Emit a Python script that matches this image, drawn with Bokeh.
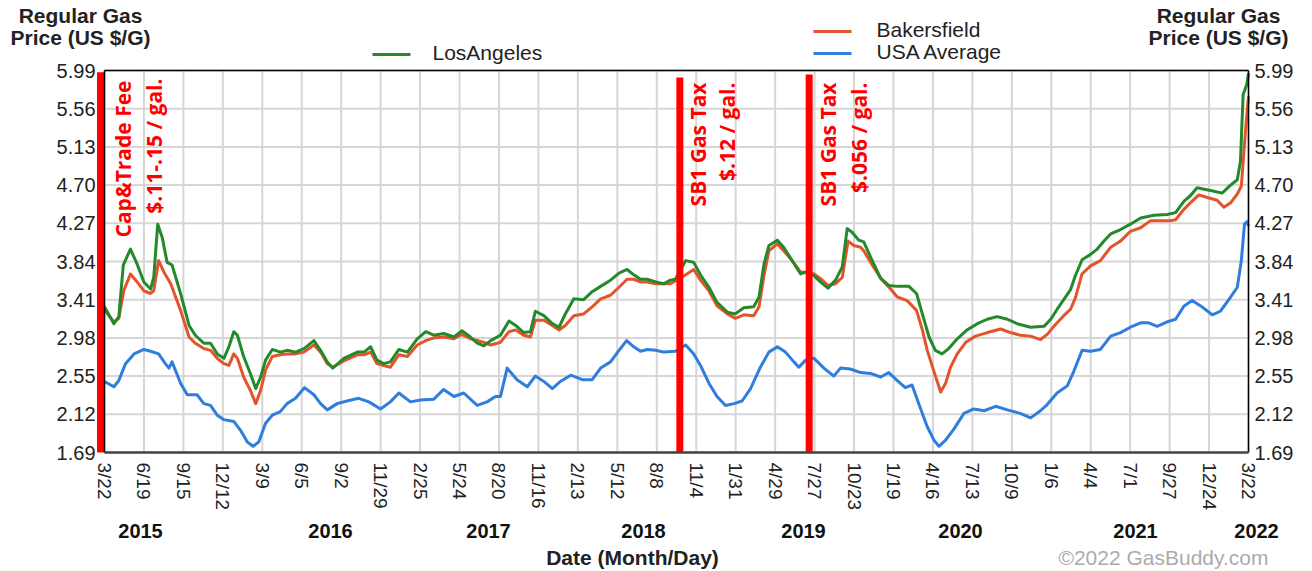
import numpy as np
from bokeh.plotting import figure
from bokeh.models import Range1d
from bokeh.core.properties import value
from bokeh.embed import file_html
from bokeh.resources import INLINE

# ---------------- data ----------------
START_DATE = "2015-03-22"      # day 0
TOTAL_DAYS = 2557              # 2015-03-22 .. 2022-03-22
N_INTERVALS = 29               # x axis ticks split the span evenly

x_tick_labels = ["3/22", "6/19", "9/15", "12/12", "3/9", "6/5", "9/2", "11/29", "2/25", "5/24",
                 "8/20", "11/16", "2/13", "5/12", "8/8", "11/4", "1/31", "4/29", "7/27", "10/23",
                 "1/19", "4/16", "7/13", "10/9", "1/6", "4/4", "7/1", "9/27", "12/24", "3/22"]
year_labels = ["2015", "2016", "2017", "2018", "2019", "2020", "2021", "2022"]
y_ticks = [1.69, 2.12, 2.55, 2.98, 3.41, 3.84, 4.27, 4.70, 5.13, 5.56, 5.99]
series_names = ["LosAngeles", "Bakersfield", "USA Average"]

# Los Angeles (days since START_DATE, $/gal)
la_day = [0, 21, 32, 42, 58, 73, 88, 103, 110, 119, 129, 140, 151, 170, 189, 203, 222, 237, 252, 267,
          278, 289, 297, 311, 326, 338, 349, 360, 375, 393, 408, 427, 446, 468, 483, 498,
          510, 535, 565, 580, 595, 609, 624, 639, 658, 677, 699, 718, 736, 758, 781, 799, 818, 833,
          848, 863, 885, 904, 919, 937, 952, 963, 982, 1001, 1016, 1030,
          1049, 1071, 1090, 1109, 1131, 1150, 1168, 1183, 1198, 1213, 1232, 1250, 1265, 1276, 1299,
          1317, 1332, 1351, 1369, 1392, 1410, 1429, 1451, 1463, 1474, 1485, 1504, 1518, 1537,
          1556, 1567, 1586, 1600, 1617, 1634, 1649, 1660, 1671, 1686, 1697, 1716, 1735, 1753, 1772,
          1798, 1815, 1828, 1843, 1857, 1872, 1887, 1906, 1928, 1951, 1973, 1995, 2018, 2040,
          2070, 2100, 2115, 2129, 2144, 2159, 2170, 2185, 2204, 2219, 2234, 2249, 2271, 2293, 2316,
          2346, 2375, 2394, 2413, 2427, 2442, 2461, 2480, 2498, 2517, 2532, 2539, 2545, 2553, 2557]
la_price = [3.33, 3.14, 3.22, 3.80, 3.98, 3.81, 3.61, 3.53, 3.66, 4.26, 4.11, 3.83, 3.80, 3.48, 3.12,
            3.01, 2.92, 2.92, 2.80, 2.75, 2.88, 3.05, 3.01, 2.77, 2.58, 2.41, 2.54, 2.73, 2.85, 2.82,
            2.84, 2.82, 2.86, 2.95, 2.84, 2.71,
            2.64, 2.75, 2.82, 2.82, 2.88, 2.73, 2.69, 2.71, 2.85, 2.82, 2.97, 3.05, 3.01, 3.03, 2.99,
            3.06, 2.99, 2.92, 2.89, 2.95, 3.01, 3.17, 3.12, 3.04, 3.05, 3.28, 3.23, 3.14, 3.10, 3.25,
            3.42, 3.41, 3.50, 3.56, 3.63, 3.71, 3.75, 3.69, 3.64, 3.64, 3.61, 3.59, 3.63, 3.64, 3.85,
            3.83, 3.69, 3.55, 3.38, 3.27, 3.25, 3.32, 3.33, 3.44, 3.81, 4.02, 4.08, 4.00, 3.85,
            3.70, 3.72, 3.68, 3.61, 3.54, 3.63, 3.78, 4.21, 4.17, 4.08, 4.06, 3.85, 3.65, 3.57, 3.56,
            3.56, 3.48, 3.25, 2.99, 2.84, 2.80, 2.86, 2.97, 3.07, 3.14, 3.19, 3.22, 3.19, 3.14,
            3.10, 3.11, 3.19, 3.30, 3.41, 3.52, 3.68, 3.86, 3.92, 3.98, 4.07, 4.15, 4.20, 4.26, 4.33,
            4.36, 4.37, 4.39, 4.52, 4.58, 4.67, 4.65, 4.63, 4.61, 4.70, 4.76, 4.97, 5.72, 5.83, 5.96]

# Bakersfield
bk_day = [0, 21, 32, 43, 58, 73, 88, 103, 110, 121, 133, 148, 170, 189, 203, 222, 237, 252, 267, 278,
          289, 297, 311, 326, 338, 349, 360, 375, 393, 408, 427, 446, 468, 483, 498,
          510, 535, 565, 580, 595, 609, 624, 639, 658, 677, 699, 718, 736, 758, 781, 799, 818, 833,
          848, 863, 885, 904, 919, 937, 952, 963, 982, 1001, 1016, 1030,
          1049, 1071, 1090, 1109, 1131, 1150, 1168, 1183, 1198, 1213, 1232, 1250, 1265, 1276, 1299,
          1317, 1332, 1351, 1369, 1392, 1410, 1429, 1451, 1463, 1474, 1485, 1504, 1518, 1537,
          1556, 1567, 1586, 1600, 1617, 1634, 1649, 1662, 1675, 1690, 1697, 1716, 1735, 1757, 1772,
          1794, 1815, 1828, 1839, 1854, 1869, 1880, 1891, 1906, 1925, 1947, 1973, 2003, 2025, 2047,
          2070, 2092, 2107, 2122, 2144, 2159, 2170, 2185, 2204, 2226, 2249, 2271, 2293, 2316, 2338,
          2360, 2383, 2394, 2413, 2427, 2446, 2465, 2487, 2502, 2517, 2532, 2541, 2548, 2554, 2557]
bk_price = [3.29, 3.16, 3.20, 3.51, 3.70, 3.61, 3.51, 3.48, 3.51, 3.85, 3.72, 3.59, 3.29, 2.99, 2.92,
            2.86, 2.84, 2.75, 2.69, 2.67, 2.80, 2.75, 2.54, 2.39, 2.24, 2.39, 2.62, 2.77, 2.79, 2.80,
            2.80, 2.82, 2.90, 2.82, 2.69,
            2.65, 2.72, 2.79, 2.79, 2.82, 2.69, 2.67, 2.65, 2.79, 2.77, 2.90, 2.95, 2.98, 2.99, 2.97,
            3.02, 2.97, 2.95, 2.93, 2.90, 2.93, 3.05, 3.07, 3.01, 2.99, 3.18, 3.18, 3.12, 3.07, 3.12,
            3.23, 3.25, 3.33, 3.42, 3.46, 3.55, 3.64, 3.64, 3.61, 3.61, 3.59, 3.59, 3.59, 3.62, 3.69,
            3.75, 3.63, 3.51, 3.34, 3.25, 3.20, 3.24, 3.23, 3.33, 3.68, 3.96, 4.04, 3.96, 3.85,
            3.72, 3.72, 3.70, 3.65, 3.57, 3.59, 3.66, 4.07, 4.02, 4.00, 3.96, 3.80, 3.65, 3.53, 3.44,
            3.40, 3.29, 3.07, 2.84, 2.60, 2.37, 2.47, 2.65, 2.80, 2.93, 3.00, 3.04, 3.08, 3.04, 3.01,
            3.00, 2.96, 3.02, 3.11, 3.23, 3.30, 3.43, 3.70, 3.79, 3.85, 4.00, 4.07, 4.18, 4.22, 4.30,
            4.30, 4.30, 4.31, 4.43, 4.50, 4.59, 4.56, 4.53, 4.45, 4.50, 4.60, 4.69, 5.16, 5.53, 5.70]

# USA average
us_day = [0, 21, 32, 47, 66, 88, 103, 121, 136, 144, 151, 170, 185, 207, 222, 237, 252, 267, 289, 304,
          319, 332, 345, 360, 375, 393, 408, 427, 447, 468, 483, 498,
          520, 542, 568, 591, 617, 639, 658, 684, 706, 736, 758, 781, 803, 833, 855, 874, 885, 900,
          922, 945, 963, 982, 1001, 1019, 1042,
          1068, 1090, 1109, 1131, 1150, 1167, 1183, 1198, 1213, 1232, 1250, 1276, 1299, 1317, 1332,
          1351, 1369, 1388, 1407, 1425, 1444, 1466, 1485, 1504, 1522, 1541,
          1552, 1567, 1586, 1608, 1630, 1645, 1667, 1690, 1712, 1735, 1753, 1772, 1790, 1805, 1820,
          1839, 1854, 1865, 1880, 1898, 1921, 1943, 1966, 1992, 2018, 2047,
          2070, 2092, 2107, 2129, 2152, 2167, 2185, 2204, 2226, 2249, 2271, 2293, 2316, 2334, 2353,
          2375, 2394, 2413, 2431, 2450, 2476, 2494, 2513, 2532, 2541, 2548, 2554, 2557]
us_price = [2.49, 2.43, 2.50, 2.69, 2.80, 2.85, 2.83, 2.80, 2.69, 2.64, 2.71, 2.47, 2.34, 2.34, 2.24,
            2.22, 2.11, 2.06, 2.04, 1.94, 1.81, 1.76, 1.81, 2.02, 2.11, 2.15, 2.24, 2.30, 2.42, 2.34,
            2.24, 2.17,
            2.24, 2.27, 2.30, 2.26, 2.18, 2.26, 2.36, 2.26, 2.28, 2.29, 2.40, 2.32, 2.36, 2.22, 2.26,
            2.32, 2.32, 2.64, 2.51, 2.43, 2.55, 2.49, 2.41, 2.49, 2.56,
            2.51, 2.51, 2.64, 2.71, 2.84, 2.95, 2.88, 2.83, 2.85, 2.84, 2.82, 2.83, 2.90, 2.80, 2.67,
            2.47, 2.32, 2.22, 2.24, 2.27, 2.41, 2.65, 2.82, 2.88, 2.82, 2.71,
            2.65, 2.73, 2.75, 2.64, 2.55, 2.64, 2.63, 2.59, 2.58, 2.54, 2.59, 2.50, 2.42, 2.45, 2.24,
            1.98, 1.83, 1.76, 1.83, 1.95, 2.13, 2.18, 2.16, 2.21, 2.17, 2.13,
            2.08, 2.16, 2.23, 2.36, 2.44, 2.61, 2.84, 2.83, 2.85, 3.00, 3.04, 3.10, 3.15, 3.15, 3.11,
            3.16, 3.19, 3.34, 3.40, 3.34, 3.24, 3.28, 3.41, 3.55, 3.85, 4.26, 4.29, 4.24]

# tax events (red bars) and their notes
event_day = [-9, 1286, 1575]
event_top = [5.97, 5.91, 5.945]
notes = ["Cap&Trade Fee", "$.11-.15 / gal.", "SB1 Gas Tax", "$.12 / gal.", "SB1 Gas Tax", "$.056 / gal."]

# ---------------- layout (pixel positions in the picture) ----------------
W, H = 1312, 571
FL, FR, FT, FB = 104, 1248, 70, 452        # plot area: day 0 .. TOTAL_DAYS, 1.69 .. 5.99
Y0, Y1 = y_ticks[0], y_ticks[-1]
PX_PER_UNIT = (FR - FL) / N_INTERVALS

def u(days):
    return np.asarray(days, dtype=float) * N_INTERVALS / TOTAL_DAYS
def px2u(px):
    return (np.asarray(px, dtype=float) - FL) / PX_PER_UNIT
def py2v(py):
    return Y0 + (FB - np.asarray(py, dtype=float)) * (Y1 - Y0) / (FB - FT)

FONT = "Liberation Sans"
GREEN, ORANGE, BLUE, RED = "#23892a", "#e4542c", "#2f7ddf", "#ff0000"
colors = [GREEN, ORANGE, BLUE]

p = figure(width=W, height=H, output_backend="svg", toolbar_location=None,
           x_range=Range1d(float(px2u(0)), float(px2u(W))),
           y_range=Range1d(float(py2v(H)), float(py2v(0))),
           x_axis_type=None, y_axis_type=None, min_border=0)
p.outline_line_color = None
p.background_fill_color = "white"
p.border_fill_color = "white"

x_ticks = np.arange(N_INTERVALS + 1)

# grid
p.segment(x0=x_ticks, y0=Y0, x1=x_ticks, y1=Y1, line_color="#d6d6d6", line_width=2)
p.segment(x0=0, y0=y_ticks, x1=N_INTERVALS, y1=y_ticks, line_color="#d6d6d6", line_width=2)

# series
p.line(u(us_day), us_price, line_color=BLUE, line_width=3, line_join="round")
p.line(u(bk_day), bk_price, line_color=ORANGE, line_width=3, line_join="round")
p.line(u(la_day), la_price, line_color=GREEN, line_width=3, line_join="round")

# tax events
p.vbar(x=u(event_day), width=15.6 * N_INTERVALS / TOTAL_DAYS, top=event_top, bottom=Y0,
       fill_color=RED, line_color=None)

# plot-area border
p.segment(x0=[0, N_INTERVALS, 0], y0=[Y0, Y0, Y1], x1=[0, N_INTERVALS, N_INTERVALS],
          y1=[Y1, Y1, Y1], line_color="black", line_width=1.5)
p.segment(x0=0, y0=Y0, x1=N_INTERVALS, y1=Y0, line_color="#444444", line_width=2.5)

def txt(x, y, text, size, bold=False, color="#222222", align="center", baseline="middle",
        angle=0.0, font=FONT):
    p.text(x=np.atleast_1d(x), y=np.atleast_1d(y), text=list(np.atleast_1d(text)),
           text_font=value(font), text_font_size=value(size),
           text_font_style="bold" if bold else "normal", text_color=color,
           text_align=align, text_baseline=baseline, angle=angle)

# y tick labels (both sides)
ylab = ["%.2f" % v for v in y_ticks]
txt([px2u(95)] * len(y_ticks), y_ticks, ylab, "20px", align="right")
txt([px2u(1254)] * len(y_ticks), y_ticks, ylab, "20px", align="left")

# x tick labels (rotated, reading downwards)
txt(x_ticks, [py2v(462)] * len(x_ticks), x_tick_labels, "19px", align="left", angle=-np.pi / 2)

# years & axis title & credit
year_px = [140, 330, 488, 643, 803, 960, 1135, 1256]
txt(px2u(year_px), [py2v(530)] * len(year_labels), year_labels, "20px", bold=True, color="#111111")
txt(px2u(632), py2v(557), "Date (Month/Day)", "21px", bold=True)
txt(px2u(1268), py2v(557), "\u00a92022 GasBuddy.com", "21px", color="#ababab", align="right")

# price titles
for cx in (80, 1218):
    txt([px2u(cx)] * 2, py2v([15, 37]), ["Regular Gas", "Price (US $/G)"], "21px", bold=True)

# legend
leg_x0 = np.array([372, 813, 813])
leg_y = np.array([54, 31, 53])
leg_text_x = np.array([432, 876, 876])
p.segment(x0=px2u(leg_x0), y0=py2v(leg_y), x1=px2u(leg_x0 + 38), y1=py2v(leg_y),
          line_color=colors, line_width=3)
txt(px2u(leg_text_x), py2v(leg_y - 2), series_names, "21px", align="left")

# red notes (vertical)
note_x_px = [122.5, 153, 697.5, 726, 827, 858]
note_top_px = [80, 78, 82, 82, 82, 82]
txt(px2u(note_x_px), py2v(note_top_px), notes, "21px", bold=True, color=RED, align="right",
    angle=np.pi / 2, font="Open Sans")

open("out.html", "w").write(file_html(p, INLINE))
